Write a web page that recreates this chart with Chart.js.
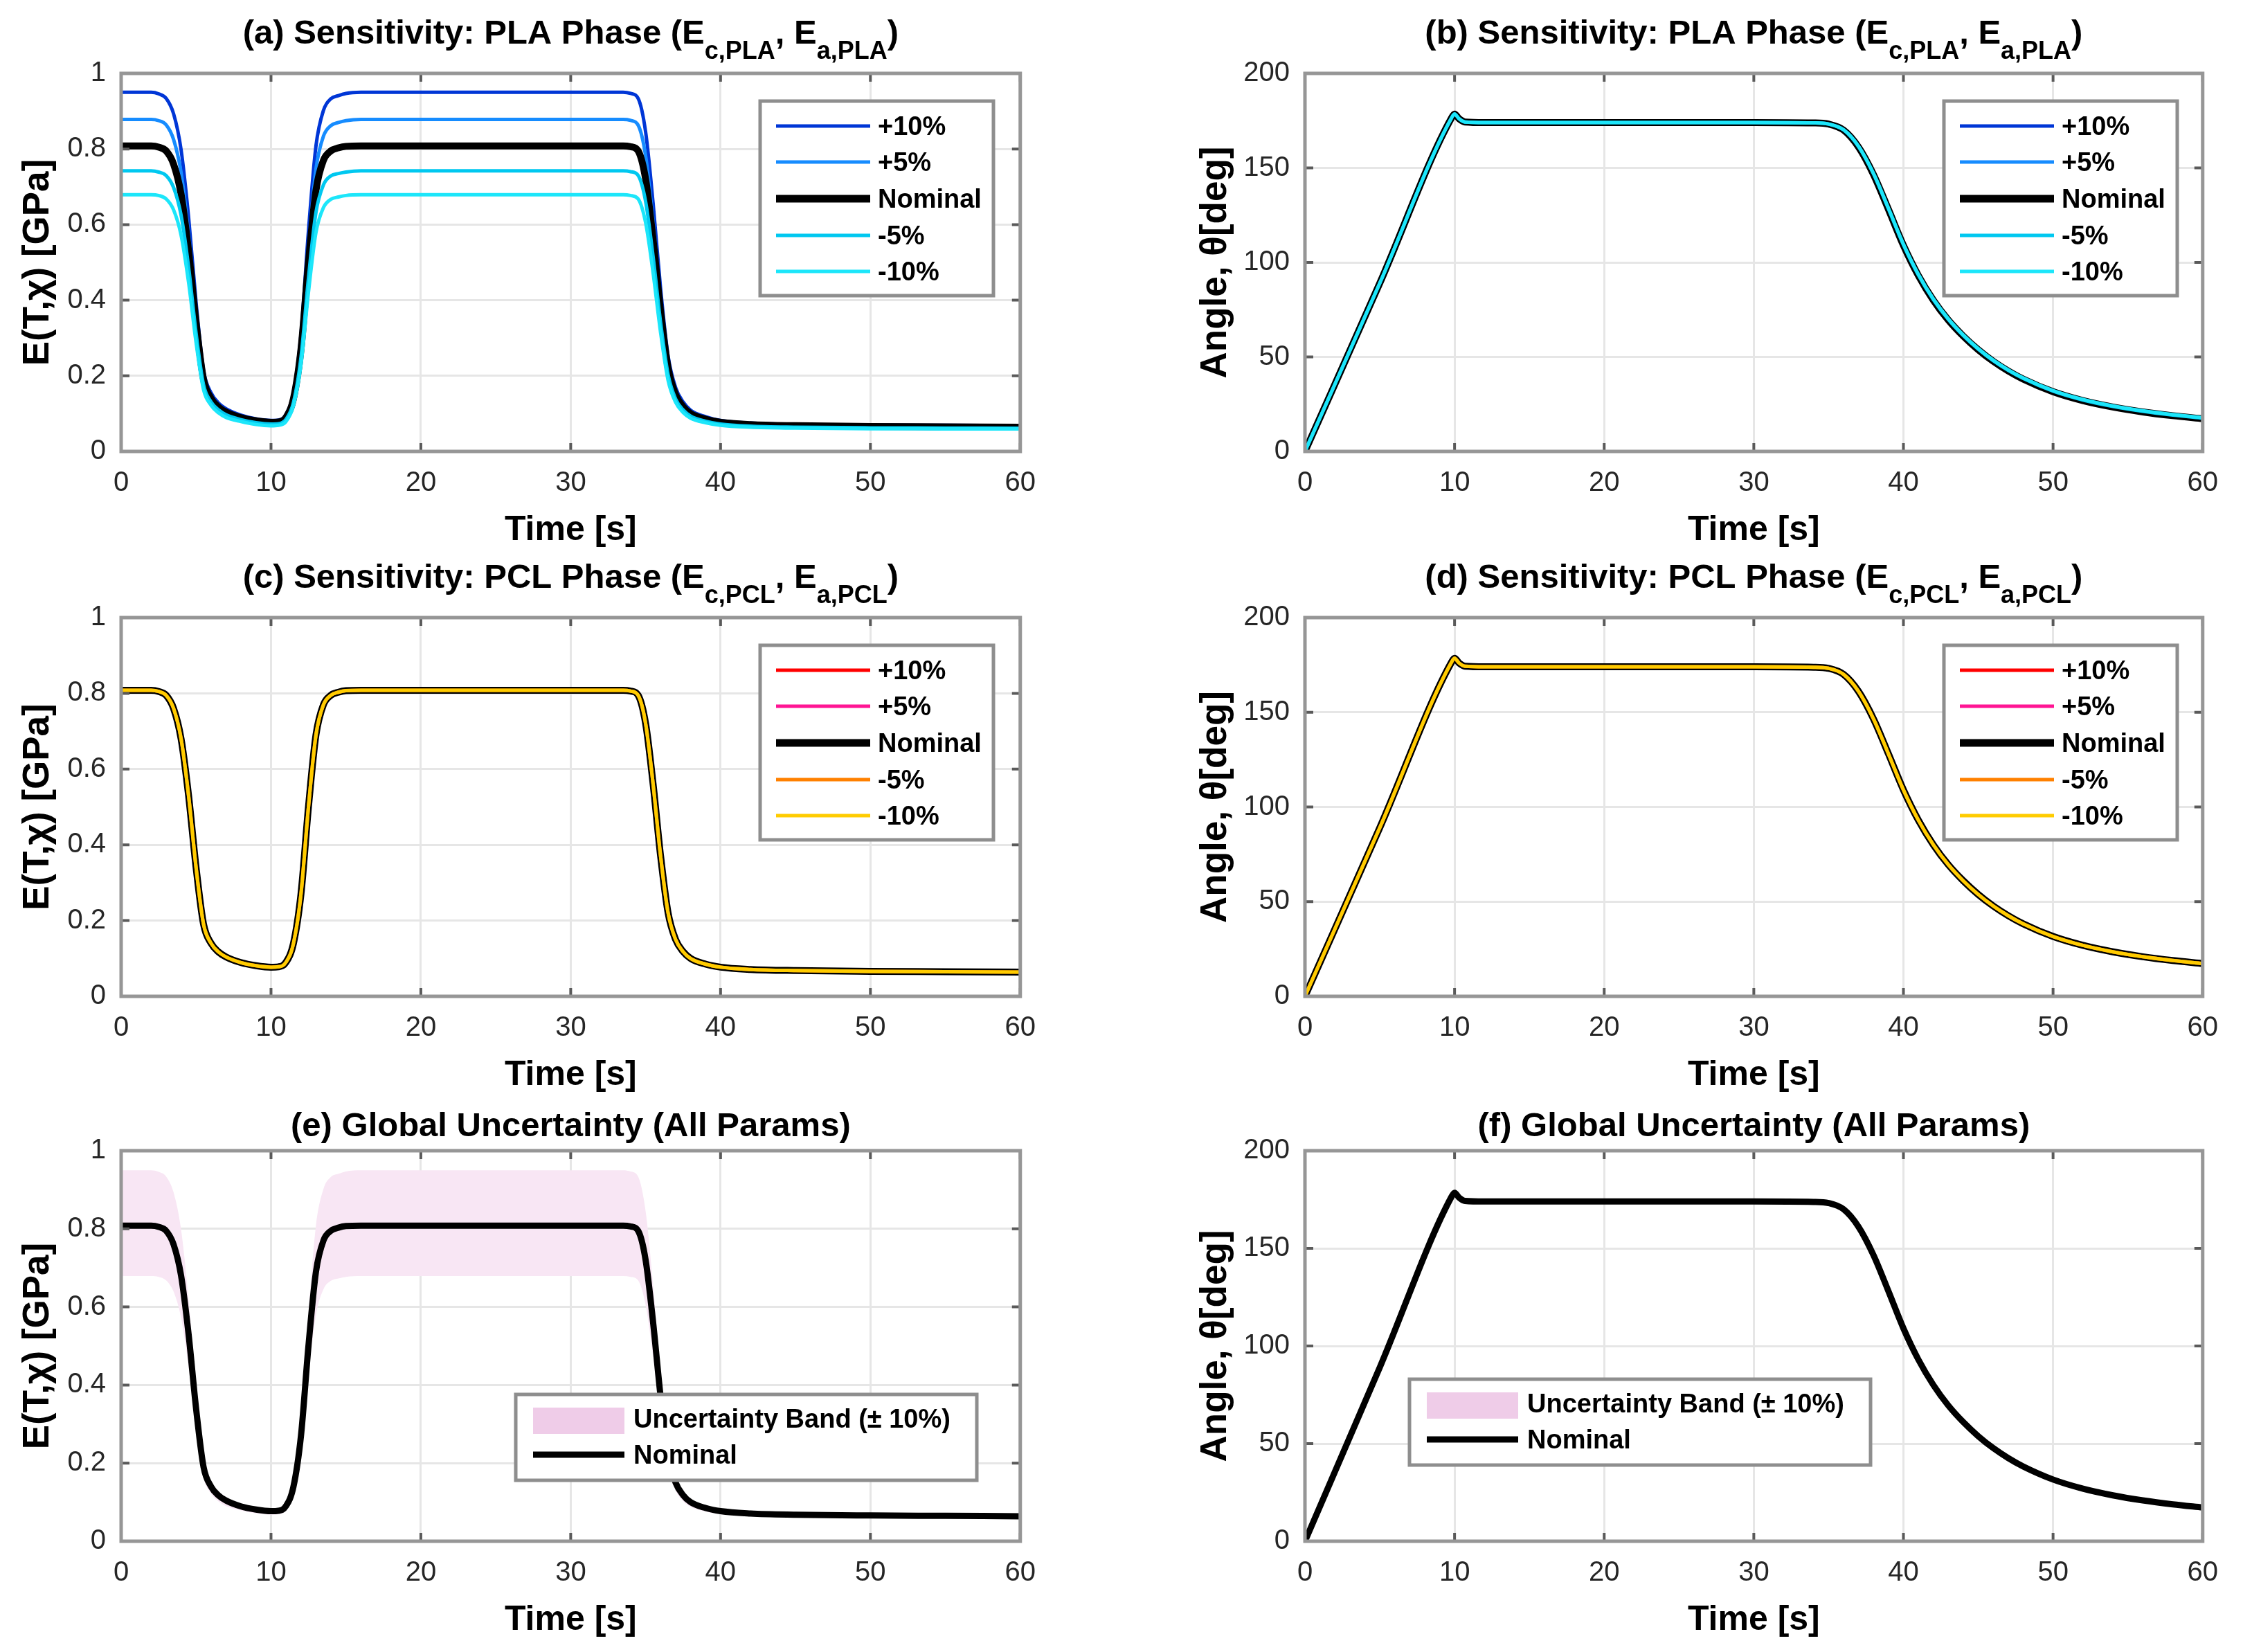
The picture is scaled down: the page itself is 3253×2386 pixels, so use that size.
<!DOCTYPE html>
<html><head><meta charset="utf-8">
<script src="https://cdn.jsdelivr.net/npm/chart.js@4.4.1/dist/chart.umd.min.js"></script>
<style>
html,body{margin:0;padding:0;background:#fff;width:3253px;height:2386px;overflow:hidden}
canvas{position:absolute}
</style></head>
<body>
<canvas id="pa"></canvas><canvas id="pb"></canvas>
<canvas id="pc"></canvas><canvas id="pd"></canvas>
<canvas id="pe"></canvas><canvas id="pf"></canvas>
<script>
// ---------------- DATA ----------------
const seriesLabels = ['+10%', '+5%', 'Nominal', '-5%', '-10%'];
const bandLabels = ['Uncertainty Band (\u00b1 10%)', 'Nominal'];
const xTickLabels = ['0', '10', '20', '30', '40', '50', '60'];
const yTickLabelsE = ['0', '0.2', '0.4', '0.6', '0.8', '1'];
const yTickLabelsA = ['0', '50', '100', '150', '200'];

const titleA = ['(a) Sensitivity: PLA Phase (E', 'c,PLA', ', E', 'a,PLA', ')'];
const titleB = ['(b) Sensitivity: PLA Phase (E', 'c,PLA', ', E', 'a,PLA', ')'];
const titleC = ['(c) Sensitivity: PCL Phase (E', 'c,PCL', ', E', 'a,PCL', ')'];
const titleD = ['(d) Sensitivity: PCL Phase (E', 'c,PCL', ', E', 'a,PCL', ')'];
const titleE = ['(e) Global Uncertainty (All Params)'];
const titleF = ['(f) Global Uncertainty (All Params)'];
const xTitle = 'Time [s]';
const yTitleE = 'E(T,\u03c7) [GPa]';
const yTitleA = 'Angle, \u03b8[deg]';

// time grid for modulus curves [s]
const tE = [0, 2, 2.5, 3, 3.5, 4, 4.5, 5, 5.5, 6,
  6.5, 7, 8, 9, 10, 10.5, 11, 11.5, 12, 12.5,
  13, 13.5, 14, 14.5, 15, 16, 20, 25, 30, 33.5,
  34, 34.5, 35, 35.5, 36, 36.5, 37, 37.5, 38, 39,
  40, 42, 45, 50, 55, 60];
// E(T,chi) [GPa]
const eNominal = [0.808, 0.808, 0.805, 0.795, 0.76, 0.68, 0.53, 0.34, 0.19, 0.14,
  0.117, 0.104, 0.089, 0.081, 0.077, 0.078, 0.090, 0.140, 0.270, 0.500,
  0.690, 0.770, 0.795, 0.803, 0.807, 0.808, 0.808, 0.808, 0.808, 0.808,
  0.806, 0.795, 0.720, 0.560, 0.370, 0.220, 0.150, 0.118, 0.100, 0.085,
  0.077, 0.071, 0.068, 0.066, 0.065, 0.064];
const ePlaP10 = [0.950, 0.950, 0.946, 0.934, 0.893, 0.798, 0.620, 0.394, 0.214, 0.155,
  0.128, 0.113, 0.096, 0.086, 0.082, 0.083, 0.098, 0.157, 0.310, 0.583,
  0.808, 0.902, 0.933, 0.941, 0.947, 0.950, 0.950, 0.950, 0.950, 0.950,
  0.947, 0.934, 0.845, 0.656, 0.430, 0.252, 0.169, 0.131, 0.109, 0.092,
  0.082, 0.075, 0.0715, 0.070, 0.069, 0.068];
const ePlaP5 = [0.878, 0.878, 0.875, 0.864, 0.825, 0.738, 0.575, 0.367, 0.201, 0.147,
  0.122, 0.108, 0.092, 0.084, 0.0795, 0.0805, 0.094, 0.148, 0.290, 0.540,
  0.747, 0.834, 0.862, 0.870, 0.875, 0.878, 0.878, 0.878, 0.878, 0.878,
  0.8755, 0.863, 0.782, 0.607, 0.400, 0.236, 0.159, 0.124, 0.105, 0.088,
  0.0795, 0.073, 0.0697, 0.068, 0.067, 0.066];
const ePlaM5 = [0.742, 0.742, 0.739, 0.730, 0.698, 0.625, 0.488, 0.313, 0.176, 0.131,
  0.110, 0.097, 0.084, 0.076, 0.0724, 0.0733, 0.085, 0.130, 0.249, 0.459,
  0.632, 0.705, 0.729, 0.735, 0.739, 0.742, 0.742, 0.742, 0.742, 0.742,
  0.740, 0.730, 0.661, 0.515, 0.341, 0.2035, 0.139, 0.110, 0.0936, 0.080,
  0.0726, 0.067, 0.0643, 0.0625, 0.062, 0.0615];
const ePlaM10 = [0.679, 0.679, 0.677, 0.668, 0.639, 0.572, 0.447, 0.288, 0.163, 0.122,
  0.102, 0.090, 0.079, 0.0712, 0.0678, 0.069, 0.079, 0.121, 0.229, 0.421,
  0.579, 0.645, 0.667, 0.673, 0.677, 0.679, 0.679, 0.679, 0.679, 0.679,
  0.677, 0.668, 0.605, 0.472, 0.314, 0.188, 0.130, 0.103, 0.088, 0.076,
  0.069, 0.064, 0.0617, 0.060, 0.0597, 0.0595];
// PCL-phase perturbations: curves coincide with the nominal one
const ePclP10 = eNominal, ePclP5 = eNominal, ePclM5 = eNominal, ePclM10 = eNominal;
// global band (e)
const eBandUpper = ePlaP10;
const eBandLower = ePlaM10;

// time grid for angle curves [s]
const tA = [0, 5, 9.8, 10, 10.3, 10.7, 12, 20, 30, 34,
  35, 36, 37, 38, 39, 40, 41, 42, 43, 44,
  45, 46, 47, 48, 50, 52, 54, 56, 58, 60];
// Angle theta [deg]
const aNominal = [0, 89, 176.5, 178.5, 176, 174.3, 174, 174, 174, 173.8,
  173.2, 170, 161, 146.5, 128, 109, 93, 80, 69.5, 61,
  53.8, 47.7, 42.6, 38.3, 31.6, 26.9, 23.5, 20.9, 18.9, 17.3];
const aPlaP10 = [0, 89, 176.5, 178.5, 176, 174.3, 174, 174, 174, 173.8,
  173.2, 169.8, 160.6, 146, 127.4, 108.4, 92.4, 79.4, 68.9, 60.5,
  53.3, 47.2, 42.1, 37.8, 31.1, 26.4, 23, 20.4, 18.4, 16.8];
const aPlaP5 = [0, 89, 176.5, 178.5, 176, 174.3, 174, 174, 174, 173.8,
  173.2, 169.9, 160.8, 146.2, 127.7, 108.7, 92.7, 79.7, 69.2, 60.8,
  53.6, 47.4, 42.3, 38, 31.3, 26.6, 23.2, 20.6, 18.6, 17];
const aPlaM5 = [0, 89, 176.5, 178.5, 176, 174.3, 174, 174, 174, 173.8,
  173.2, 170.1, 161.2, 146.8, 128.3, 109.3, 93.3, 80.3, 69.8, 61.3,
  54.1, 48, 42.9, 38.6, 31.9, 27.2, 23.8, 21.2, 19.2, 17.6];
const aPlaM10 = [0, 89, 176.5, 178.5, 176, 174.3, 174, 174, 174, 173.8,
  173.2, 170.2, 161.5, 147.1, 128.7, 109.7, 93.7, 80.7, 70.2, 61.6,
  54.4, 48.3, 43.2, 38.9, 32.2, 27.5, 24.1, 21.5, 19.5, 17.9];
const aPclP10 = aNominal, aPclP5 = aNominal, aPclM5 = aNominal, aPclM10 = aNominal;
const aBandUpper = aPlaM10;
const aBandLower = aPlaP10;

// ---------------- STYLE ----------------
const FONT = "'Liberation Sans', Arial, Helvetica, sans-serif";
const colorsPLA = ['#0036d6', '#168cff', '#000000', '#00c8f0', '#1ce6fa'];
const colorsPCL = ['#ff0000', '#ff1493', '#000000', '#ff8000', '#ffcc00'];
const bandFill = '#f8e6f4';
const bandLegendFill = '#efcce8';
const LW = 5, LWN = 10;

function pts(t, v) { return t.map((x, i) => ({x: x, y: v[i]})); }

function lineDs(label, t, v, color, width, order) {
  return {label: label, data: pts(t, v), borderColor: color, borderWidth: width,
    pointRadius: 0, pointHoverRadius: 0, fill: false, cubicInterpolationMode: 'monotone',
    borderJoinStyle: 'round', borderCapStyle: 'butt', order: order};
}

const decor = {
  id: 'decor',
  afterDatasetsDraw(chart, args, o) {
    const ctx = chart.ctx, a = chart.chartArea;
    const xs = chart.scales.x, ys = chart.scales.y;
    ctx.save();
    ctx.strokeStyle = '#5a5a5a'; ctx.lineWidth = 4;
    ctx.beginPath();
    xs.ticks.forEach(t => { const p = xs.getPixelForValue(t.value);
      ctx.moveTo(p, a.bottom); ctx.lineTo(p, a.bottom - 12);
      ctx.moveTo(p, a.top); ctx.lineTo(p, a.top + 12); });
    ys.ticks.forEach(t => { const p = ys.getPixelForValue(t.value);
      ctx.moveTo(a.left, p); ctx.lineTo(a.left + 12, p);
      ctx.moveTo(a.right, p); ctx.lineTo(a.right - 12, p); });
    ctx.stroke();
    ctx.strokeStyle = '#969696'; ctx.lineWidth = 5;
    ctx.strokeRect(a.left, a.top, a.right - a.left, a.bottom - a.top);
    ctx.restore();
  },
  afterDraw(chart, args, o) {
    const ctx = chart.ctx, a = chart.chartArea;
    ctx.save();
    // title with subscripts
    const mainF = 'bold ' + o.titleSize + 'px ' + FONT, subF = 'bold ' + o.subSize + 'px ' + FONT;
    let w = 0;
    o.title.forEach((p, i) => { ctx.font = (i % 2) ? subF : mainF; w += ctx.measureText(p).width; });
    let x = (a.left + a.right) / 2 - w / 2;
    const y = a.top + o.titleBase;
    ctx.fillStyle = '#000'; ctx.textBaseline = 'alphabetic'; ctx.textAlign = 'left';
    o.title.forEach((p, i) => { ctx.font = (i % 2) ? subF : mainF;
      ctx.fillText(p, x, (i % 2) ? y + o.subDrop : y); x += ctx.measureText(p).width; });
    // legend
    const L = o.legend, bx = a.left + L.x, by = a.top + L.y;
    ctx.fillStyle = '#fff'; ctx.fillRect(bx, by, L.w, L.h);
    ctx.strokeStyle = '#8e8e8e'; ctx.lineWidth = 5; ctx.strokeRect(bx, by, L.w, L.h);
    ctx.font = 'bold 38px ' + FONT; ctx.textBaseline = 'middle';
    L.items.forEach((it, i) => {
      const cy = by + L.rows[i];
      if (it.patch) {
        ctx.fillStyle = it.color; ctx.fillRect(bx + L.x0, cy - 19, L.x1 - L.x0, 38);
      } else {
        ctx.strokeStyle = it.color; ctx.lineWidth = it.lw; ctx.beginPath();
        ctx.moveTo(bx + L.x0, cy - 3); ctx.lineTo(bx + L.x1, cy - 3); ctx.stroke();
      }
      ctx.fillStyle = '#000'; ctx.fillText(it.label, bx + L.tx, cy);
    });
    ctx.restore();
  }
};

function makeChart(id, box, datasets, yMax, yStep, yLabels, yTitle, yTitlePad, title, titleBase, legend) {
  const cv = document.getElementById(id);
  const W = 175 + box.w + 40, H = 106 + box.h + 160;
  cv.style.left = (box.x - 175) + 'px'; cv.style.top = (box.y - 106) + 'px';
  cv.width = W; cv.height = H; cv.style.width = W + 'px'; cv.style.height = H + 'px';
  return new Chart(cv, {
    type: 'line',
    data: {datasets: datasets},
    plugins: [decor],
    options: {
      responsive: false, animation: false, devicePixelRatio: 1,
      layout: {padding: {left: 0, top: 106, right: 40, bottom: 0}},
      plugins: {
        legend: {display: false}, tooltip: {enabled: false},
        title: {display: false, text: title.join('')},
        decor: {title: title, titleSize: 49, subSize: 36, titleBase: titleBase, subDrop: 22, legend: legend}
      },
      scales: {
        x: {type: 'linear', min: 0, max: 60,
          afterFit: s => { s.height = 160; },
          ticks: {stepSize: 10, padding: 22, color: '#262626', font: {family: FONT, size: 40},
            callback: (v, i) => xTickLabels[i]},
          grid: {color: '#e6e6e6', lineWidth: 3, drawTicks: false},
          border: {display: false},
          title: {display: true, text: xTitle, color: '#000', font: {family: FONT, size: 50, weight: 'bold'},
            padding: {top: 0, bottom: 16}}},
        y: {type: 'linear', min: 0, max: yMax,
          afterFit: s => { s.width = 175; },
          ticks: {stepSize: yStep, padding: 22, color: '#262626', font: {family: FONT, size: 40},
            callback: (v, i) => yLabels[i]},
          grid: {color: '#e6e6e6', lineWidth: 3, drawTicks: false},
          border: {display: false},
          title: {display: true, text: yTitle, color: '#000', font: {family: FONT, size: 53, weight: 'bold'},
            padding: {top: yTitlePad, bottom: 0}}}
      }
    }
  });
}

function sensLegend(colors) {
  return {x: 923, y: 40, w: 337, h: 281, rows: [39, 91, 144, 197, 249], x0: 23, x1: 159, tx: 170,
    items: seriesLabels.map((l, i) => ({label: l, color: colors[i], lw: i === 2 ? 11 : LW}))};
}
function bandLegend(x, y) {
  return {x: x, y: y, w: 666, h: 124, rows: [38, 90], x0: 25, x1: 157, tx: 170,
    items: [{label: bandLabels[0], color: bandLegendFill, patch: true},
            {label: bandLabels[1], color: '#000', lw: 9}]};
}
function sensSets(t, arrs, colors) {
  return arrs.map((v, i) => lineDs(seriesLabels[i], t, v, colors[i], i === 2 ? LWN : LW, 5 - i));
}
function bandSets(t, lo, hi, nom) {
  return [
    {label: 'band-lower', data: pts(t, lo), borderColor: 'transparent', borderWidth: 0, pointRadius: 0,
      fill: false, cubicInterpolationMode: 'monotone', order: 10},
    {label: bandLabels[0], data: pts(t, hi), borderColor: 'transparent', borderWidth: 0, pointRadius: 0,
      fill: 0, backgroundColor: bandFill, cubicInterpolationMode: 'monotone', order: 9},
    lineDs(bandLabels[1], t, nom, '#000', 9, 1)
  ];
}

const boxes = {
  a: {x: 175, y: 106, w: 1303, h: 546}, b: {x: 1885, y: 106, w: 1301, h: 546},
  c: {x: 175, y: 892, w: 1303, h: 547}, d: {x: 1885, y: 892, w: 1301, h: 547},
  e: {x: 175, y: 1662, w: 1303, h: 564}, f: {x: 1885, y: 1662, w: 1301, h: 564}
};

makeChart('pa', boxes.a, sensSets(tE, [ePlaP10, ePlaP5, eNominal, ePlaM5, ePlaM10], colorsPLA),
  1, 0.2, yTickLabelsE, yTitleE, 24, titleA, -43, sensLegend(colorsPLA));
makeChart('pb', boxes.b, sensSets(tA, [aPlaP10, aPlaP5, aNominal, aPlaM5, aPlaM10], colorsPLA),
  200, 50, yTickLabelsA, yTitleA, 15, titleB, -43, sensLegend(colorsPLA));
makeChart('pc', boxes.c, sensSets(tE, [ePclP10, ePclP5, eNominal, ePclM5, ePclM10], colorsPCL),
  1, 0.2, yTickLabelsE, yTitleE, 24, titleC, -43, sensLegend(colorsPCL));
makeChart('pd', boxes.d, sensSets(tA, [aPclP10, aPclP5, aNominal, aPclM5, aPclM10], colorsPCL),
  200, 50, yTickLabelsA, yTitleA, 15, titleD, -43, sensLegend(colorsPCL));
makeChart('pe', boxes.e, bandSets(tE, eBandLower, eBandUpper, eNominal),
  1, 0.2, yTickLabelsE, yTitleE, 24, titleE, -21, bandLegend(570, 352));
makeChart('pf', boxes.f, bandSets(tA, aBandLower, aBandUpper, aNominal),
  200, 50, yTickLabelsA, yTitleA, 15, titleF, -21, bandLegend(151, 330));
</script>
</body></html>
